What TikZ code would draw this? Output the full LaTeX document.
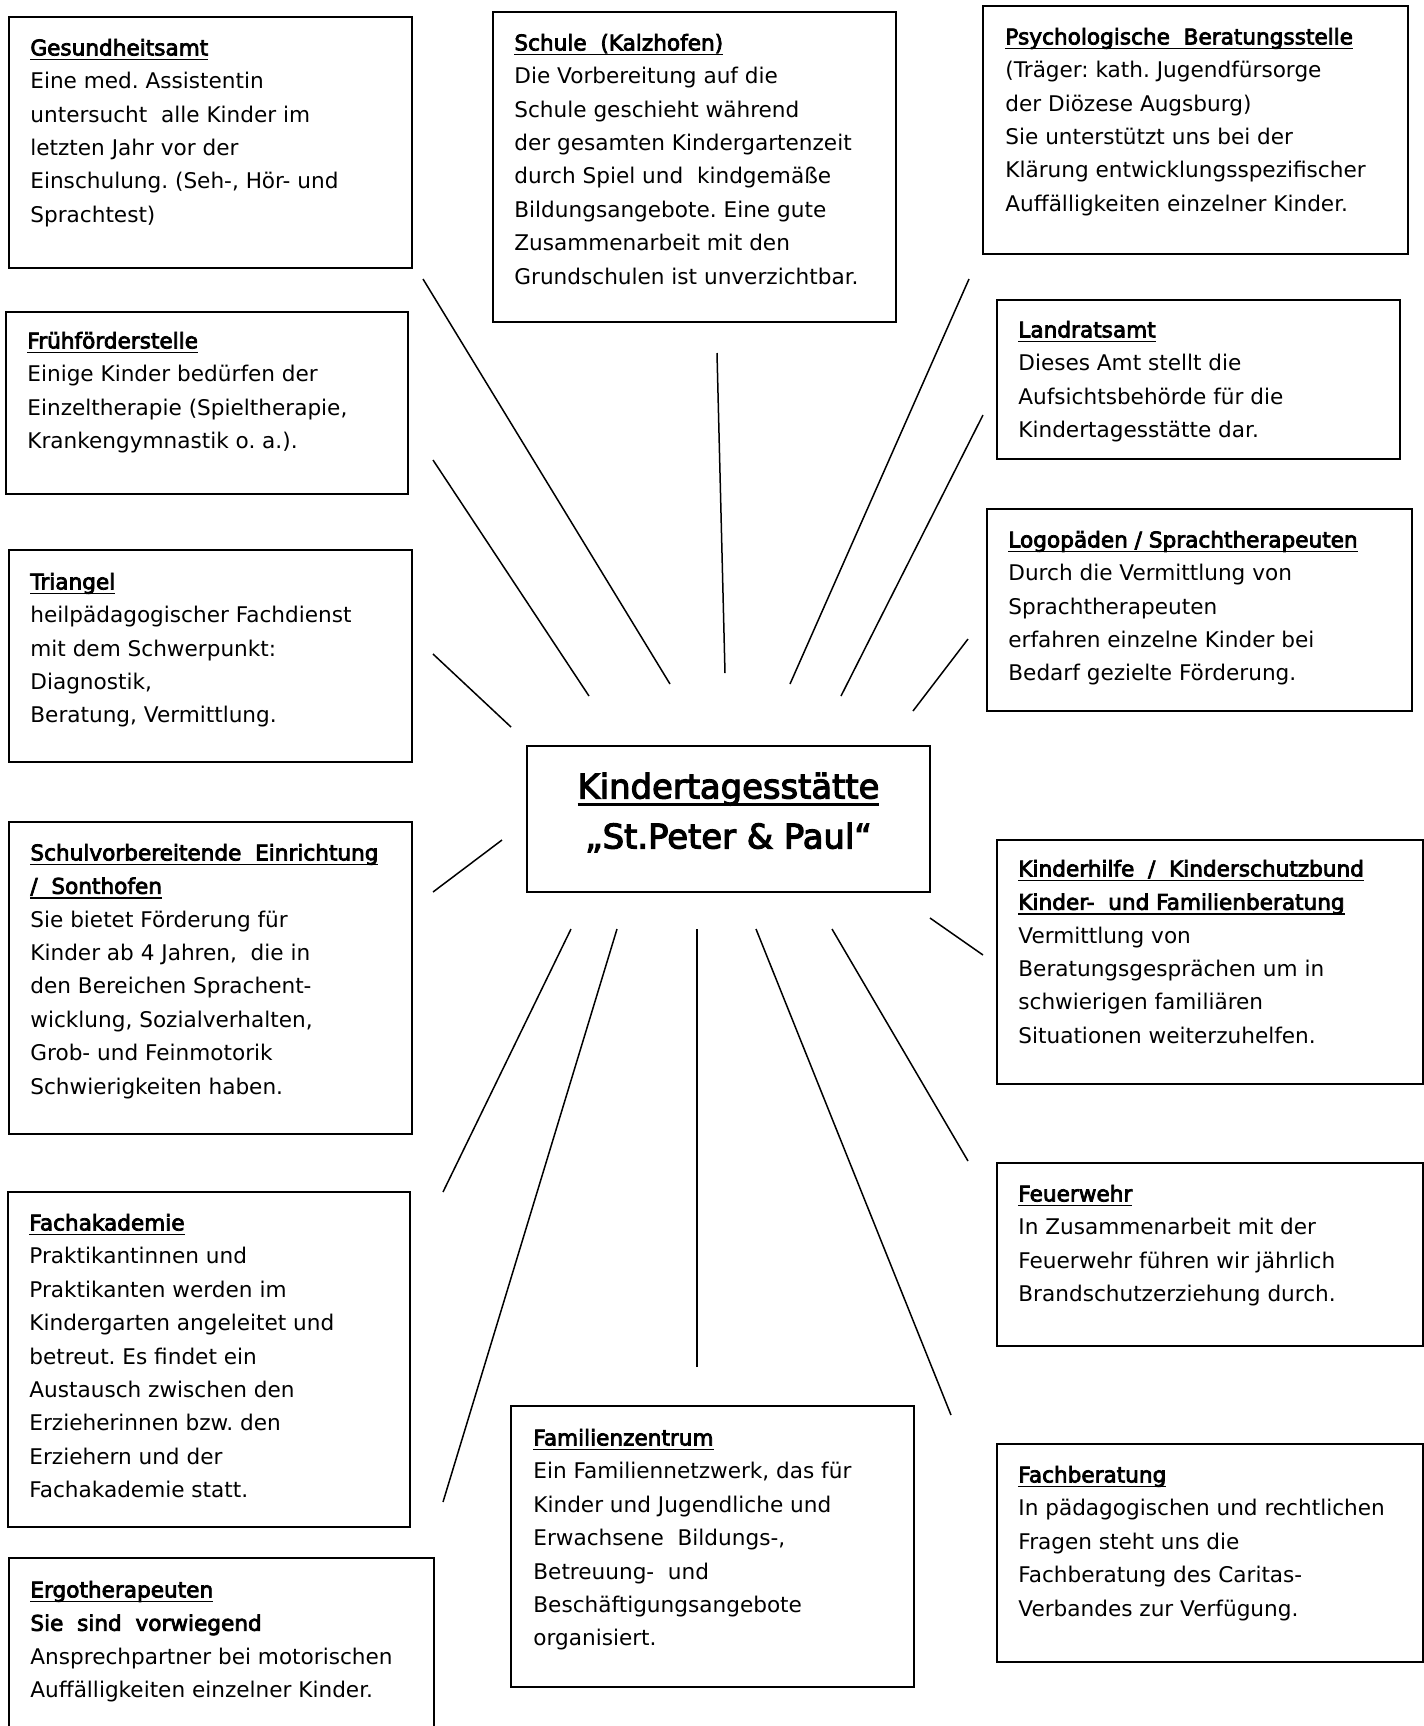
\documentclass[tikz,border=0pt]{standalone}
\usepackage{fontspec}
\setmainfont{DejaVu Sans}[BoldFont={DejaVu Sans},BoldFeatures={FakeBold=3.5}]
\frenchspacing
\newsavebox{\ulbox}
\newcommand{\unterstr}[2][0.8pt]{\sbox{\ulbox}{#2}\rlap{\rule[-2.4pt]{\wd\ulbox}{#1}}\usebox{\ulbox}}
\newcommand{\kopf}[1]{\strut\textbf{\unterstr{#1}}}

\begin{document}
\begin{tikzpicture}[x=0.5pt, y=-0.5pt,
	kasten/.style={draw, line width=1pt, anchor=north west, inner sep=0pt, outer sep=0pt},
	txt/.style={anchor=north west, inner sep=0pt, align=left, font=\fontsize{10.8}{16.7}\selectfont},
	strahl/.style={line width=0.75pt}]

		\path[use as bounding box, clip] (0,0) rectangle (1424,1726);

		% Kaesten
		\node[kasten, minimum width=201.5pt, minimum height=125.5pt] (gesund) at (9,17) {};
		\node[kasten, minimum width=201.5pt, minimum height=155pt] (schule) at (493,12) {};
		\node[kasten, minimum width=212.5pt, minimum height=124pt] (psych) at (983,6) {};
		\node[kasten, minimum width=201pt, minimum height=91pt] (frueh) at (6,312) {};
		\node[kasten, minimum width=201.5pt, minimum height=79.5pt] (landrat) at (997,300) {};
		\node[kasten, minimum width=201.5pt, minimum height=106pt] (triangel) at (9,550) {};
		\node[kasten, minimum width=212.5pt, minimum height=101pt] (logo) at (987,509) {};
		\node[kasten, minimum width=201.5pt, minimum height=73pt] (kita) at (527,746) {};
		\node[kasten, minimum width=201.5pt, minimum height=156pt] (schulvorb) at (9,822) {};
		\node[kasten, minimum width=213pt, minimum height=122pt] (kinderhilfe) at (997,840) {};
		\node[kasten, minimum width=213pt, minimum height=91.5pt] (feuerwehr) at (997,1163) {};
		\node[kasten, minimum width=213pt, minimum height=109pt] (fachberat) at (997,1444) {};
		\node[kasten, minimum width=201pt, minimum height=167.5pt] (akad) at (8,1192) {};
		\node[kasten, minimum width=212.5pt, minimum height=95pt] (ergo) at (9,1558) {};
		\node[kasten, minimum width=201.5pt, minimum height=140.5pt] (familien) at (511,1406) {};

		% Texte
		\node[anchor=north, inner sep=0pt, align=center, font=\fontsize{16.9}{25}\selectfont\bfseries] (kita-txt) at ([shift={(0,17)}]kita.north) {\strut\sbox{\ulbox}{Kindertagesstätte}\rlap{\rule[-3.8pt]{\wd\ulbox}{1.5pt}}\usebox{\ulbox}\\„St.Peter \& Paul“};

		\node[txt] (gesund-txt) at ([shift={(21,14.6)}]gesund.north west) {
			\kopf{Gesundheitsamt}\\
			Eine med. Assistentin\\
			untersucht\ \ alle Kinder im\\
			letzten Jahr vor der\\
			Einschulung. (Seh-, Hör- und\\
			Sprachtest)
		};
		\node[txt] (schule-txt) at ([shift={(21,14.6)}]schule.north west) {
			\kopf{Schule\ \ (Kalzhofen)}\\
			Die Vorbereitung auf die\\
			Schule geschieht während\\
			der gesamten Kindergartenzeit\\
			durch Spiel und\ \ kindgemäße\\
			Bildungsangebote. Eine gute\\
			Zusammenarbeit mit den\\
			Grundschulen ist unverzichtbar.
		};
		\node[txt] (psych-txt) at ([shift={(22,14.6)}]psych.north west) {
			\kopf{Psychologische\ \ Beratungsstelle}\\
			(Träger: kath. Jugendfürsorge\\
			der Diözese Augsburg)\\
			Sie unterstützt uns bei der\\
			Klärung entwicklungsspezifischer\\
			Auffälligkeiten einzelner Kinder.
		};
		\node[txt] (frueh-txt) at ([shift={(21,12.6)}]frueh.north west) {
			\kopf{Frühförderstelle}\\
			Einige Kinder bedürfen der\\
			Einzeltherapie (Spieltherapie,\\
			Krankengymnastik o. a.).
		};
		\node[txt] (landrat-txt) at ([shift={(21,13.6)}]landrat.north west) {
			\kopf{Landratsamt}\\
			Dieses Amt stellt die\\
			Aufsichtsbehörde für die\\
			Kindertagesstätte dar.
		};
		\node[txt] (triangel-txt) at ([shift={(21,15.6)}]triangel.north west) {
			\kopf{Triangel}\\
			heilpädagogischer Fachdienst\\
			mit dem Schwerpunkt:\\
			Diagnostik,\\
			Beratung, Vermittlung.
		};
		\node[txt] (logo-txt) at ([shift={(21,14.6)}]logo.north west) {
			\kopf{Logopäden / Sprachtherapeuten}\\
			Durch die Vermittlung von\\
			Sprachtherapeuten\\
			erfahren einzelne Kinder bei\\
			Bedarf gezielte Förderung.
		};
		\node[txt] (schulvorb-txt) at ([shift={(21,14.6)}]schulvorb.north west) {
			\kopf{Schulvorbereitende\ \ Einrichtung}\\
			\textbf{\unterstr{/\ \ Sonthofen}}\\
			Sie bietet Förderung für\\
			Kinder ab 4 Jahren,\ \ die in\\
			den Bereichen Sprachent-\\
			wicklung, Sozialverhalten,\\
			Grob- und Feinmotorik\\
			Schwierigkeiten haben.
		};
		\node[txt] (kinderhilfe-txt) at ([shift={(21,12.6)}]kinderhilfe.north west) {
			\kopf{Kinderhilfe\ \ /\ \ Kinderschutzbund}\\
			\textbf{\unterstr{Kinder-\ \ und Familienberatung}}\\
			Vermittlung von\\
			Beratungsgesprächen um in\\
			schwierigen familiären\\
			Situationen weiterzuhelfen.
		};
		\node[txt] (feuerwehr-txt) at ([shift={(21,14.6)}]feuerwehr.north west) {
			\kopf{Feuerwehr}\\
			In Zusammenarbeit mit der\\
			Feuerwehr führen wir jährlich\\
			Brandschutzerziehung durch.
		};
		\node[txt] (fachberat-txt) at ([shift={(21,14.6)}]fachberat.north west) {
			\kopf{Fachberatung}\\
			In pädagogischen und rechtlichen\\
			Fragen steht uns die\\
			Fachberatung des Caritas-\\
			Verbandes zur Verfügung.
		};
		\node[txt] (akad-txt) at ([shift={(21,14.6)}]akad.north west) {
			\kopf{Fachakademie}\\
			Praktikantinnen und\\
			Praktikanten werden im\\
			Kindergarten angeleitet und\\
			betreut. Es findet ein\\
			Austausch zwischen den\\
			Erzieherinnen bzw. den\\
			Erziehern und der\\
			Fachakademie statt.
		};
		\node[txt] (ergo-txt) at ([shift={(21,15.6)}]ergo.north west) {
			\kopf{Ergotherapeuten}\\
			\textbf{Sie\ \ sind\ \ vorwiegend}\\
			Ansprechpartner bei motorischen\\
			Auffälligkeiten einzelner Kinder.
		};
		\node[txt] (familien-txt) at ([shift={(22,15.6)}]familien.north west) {
			\kopf{Familienzentrum}\\
			Ein Familiennetzwerk, das für\\
			Kinder und Jugendliche und\\
			Erwachsene\ \ Bildungs-,\\
			Betreuung-\ \ und\\
			Beschäftigungsangebote\\
			organisiert.
		};

		% Strahlen
		\coordinate (gesund-a) at (423,279);       \coordinate (gesund-b) at (670,684);
		\coordinate (frueh-a) at (433,460);        \coordinate (frueh-b) at (589,696);
		\coordinate (triangel-a) at (433,654);     \coordinate (triangel-b) at (511,727);
		\coordinate (schulvorb-a) at (433,892);    \coordinate (schulvorb-b) at (502,840);
		\coordinate (schule-a) at (717,353);       \coordinate (schule-b) at (725,673);
		\coordinate (psych-a) at (969,279);        \coordinate (psych-b) at (790,684);
		\coordinate (landrat-a) at (983,415);      \coordinate (landrat-b) at (841,696);
		\coordinate (logo-a) at (968,639);         \coordinate (logo-b) at (913,711);
		\coordinate (kinderhilfe-a) at (983,955);  \coordinate (kinderhilfe-b) at (930,918);
		\coordinate (feuerwehr-a) at (968,1161);   \coordinate (feuerwehr-b) at (832,929);
		\coordinate (fachberat-a) at (951,1415);   \coordinate (fachberat-b) at (756,929);
		\coordinate (familien-a) at (697,1367);    \coordinate (familien-b) at (697,929);
		\coordinate (akad1-a) at (443,1192);       \coordinate (akad1-b) at (571,929);
		\coordinate (akad2-a) at (443,1502);       \coordinate (akad2-b) at (617,929);

		\foreach \s in {gesund,frueh,triangel,schulvorb,schule,psych,landrat,logo,kinderhilfe,feuerwehr,fachberat,familien,akad1,akad2}
			\draw[strahl] (\s-a) -- (\s-b);

	\end{tikzpicture}
\end{document}
